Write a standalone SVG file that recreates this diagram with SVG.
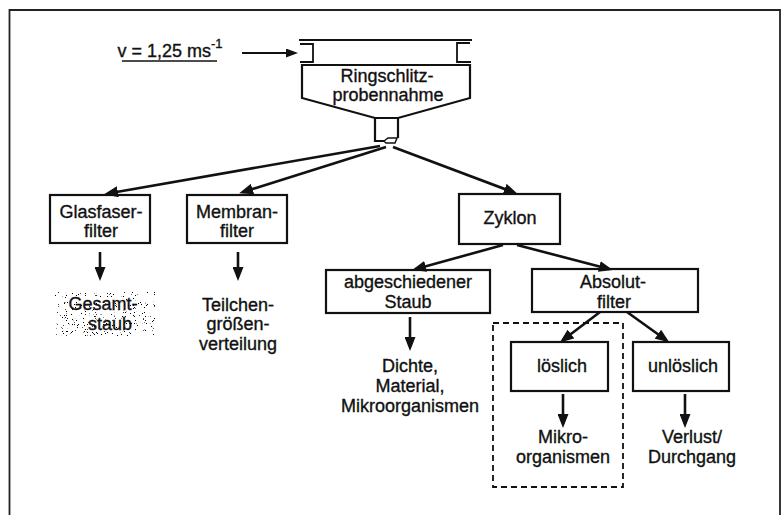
<svg xmlns="http://www.w3.org/2000/svg" width="784" height="515" viewBox="0 0 784 515">
<style>
  .t { font-family: "Liberation Sans", Arial, Helvetica, sans-serif; font-size: 18px; fill: #111; text-anchor: middle; stroke: #111; stroke-width: 0.35px; }
  .box { fill: none; stroke: #111; stroke-width: 2.2; }
  .ln { fill: none; stroke: #111; stroke-width: 2.6; }
  .thin { fill: none; stroke: #111; stroke-width: 1.8; }
</style>
<defs>
  <marker id="ah" markerUnits="userSpaceOnUse" markerWidth="14" markerHeight="11" viewBox="0 0 14 11" refX="10" refY="5.5" orient="auto">
    <path d="M0,0 L14,5.5 L0,11 Z" fill="#111"/>
  </marker>
  <marker id="ahs" markerUnits="userSpaceOnUse" markerWidth="12" markerHeight="9" viewBox="0 0 12 9" refX="9" refY="4.5" orient="auto">
    <path d="M0,0 L12,4.5 L0,9 Z" fill="#111"/>
  </marker>
  <filter id="speckle" x="0" y="0" width="1" height="1">
    <feTurbulence type="fractalNoise" baseFrequency="1.1" numOctaves="2" seed="7" result="n"/>
    <feColorMatrix in="n" type="matrix" values="0 0 0 0 0  0 0 0 0 0  0 0 0 0 0  0 0 0 -22 6.6"/>
  </filter>
</defs>
<rect x="0" y="0" width="784" height="515" fill="#fff"/>
<path d="M9.5,515 V10 H780 V515" fill="none" stroke="#222" stroke-width="1.8"/>

<g id="inlet">
  <text class="t" x="170" y="57">v = 1,25 ms<tspan dy="-9" font-size="13">-1</tspan></text>
  <line x1="122" y1="61" x2="217" y2="61" stroke="#111" stroke-width="1.5"/>
  <line x1="242" y1="53" x2="295" y2="53" class="thin" marker-end="url(#ahs)"/>
</g>

<g id="ringschlitz">
  <line x1="299" y1="40" x2="472" y2="40" stroke="#111" stroke-width="2"/>
  <path d="M300,44 H313 V62 H300" class="thin"/>
  <path d="M470,43 H457 V62 H471" class="thin"/>
  <path d="M302,65 H470 V98 L398,118 H375 L302,98 Z" class="box"/>
  <path d="M375,118 V141 H384 M398,118 V138" class="box"/>
  <path d="M384,141 L388,138 H397 L395,143 H386 Z" fill="none" stroke="#111" stroke-width="1.5"/>
  <text class="t" x="387" y="82">Ringschlitz-</text>
  <text class="t" x="388" y="101">probennahme</text>
</g>

<g id="glasfaser">
  <rect x="50" y="195" width="100" height="48" class="box"/>
  <text class="t" x="101" y="218">Glasfaser-</text>
  <text class="t" x="101" y="237">filter</text>
</g>
<g id="gesamtstaub">
  <text class="t" x="103" y="310">Gesamt-</text>
  <text class="t" x="110" y="330">staub</text>
  <rect x="55" y="292" width="100" height="44" filter="url(#speckle)"/>
</g>

<g id="membran">
  <rect x="187" y="195" width="100" height="48" class="box"/>
  <text class="t" x="237" y="218">Membran-</text>
  <text class="t" x="237" y="237">filter</text>
</g>
<g id="teilchen">
  <text class="t" x="238" y="311">Teilchen-</text>
  <text class="t" x="238" y="330">größen-</text>
  <text class="t" x="238" y="350">verteilung</text>
</g>

<g id="zyklon">
  <rect x="459" y="194" width="101" height="50" class="box"/>
  <text class="t" x="510" y="224">Zyklon</text>
</g>

<g id="staub">
  <rect x="326" y="270" width="164" height="43" class="box"/>
  <text class="t" x="408" y="288">abgeschiedener</text>
  <text class="t" x="408" y="308">Staub</text>
</g>
<g id="dichte">
  <text class="t" x="410" y="372">Dichte,</text>
  <text class="t" x="410" y="392">Material,</text>
  <text class="t" x="410" y="412">Mikroorganismen</text>
</g>

<g id="absolut">
  <rect x="532" y="269" width="166" height="43" class="box"/>
  <text class="t" x="613" y="288">Absolut-</text>
  <text class="t" x="614" y="308">filter</text>
</g>

<g id="dashed-group">
  <rect x="493" y="323" width="130" height="164" fill="none" stroke="#111" stroke-width="1.8" stroke-dasharray="6,4"/>
</g>

<g id="loeslich">
  <rect x="511" y="342" width="97" height="49" class="box"/>
  <text class="t" x="562" y="372">löslich</text>
</g>
<g id="mikro">
  <text class="t" x="563" y="443">Mikro-</text>
  <text class="t" x="563" y="463">organismen</text>
</g>

<g id="unloeslich">
  <rect x="633" y="342" width="96" height="49" class="box"/>
  <text class="t" x="683" y="372">unlöslich</text>
</g>
<g id="verlust">
  <text class="t" x="692" y="443">Verlust/</text>
  <text class="t" x="692" y="463">Durchgang</text>
</g>

<g id="connectors">
  <line x1="380" y1="146" x2="108" y2="193.5" class="ln" marker-end="url(#ah)"/>
  <line x1="386" y1="147" x2="243" y2="192" class="ln" marker-end="url(#ah)"/>
  <line x1="393" y1="147" x2="514" y2="192.5" class="ln" marker-end="url(#ah)"/>
  <line x1="100" y1="252" x2="100" y2="277" class="ln" marker-end="url(#ah)"/>
  <line x1="238" y1="252" x2="238" y2="277" class="ln" marker-end="url(#ah)"/>
  <line x1="503" y1="245" x2="416" y2="269" class="ln" marker-end="url(#ah)"/>
  <line x1="517" y1="245" x2="609" y2="269" class="ln" marker-end="url(#ah)"/>
  <line x1="410" y1="317" x2="410" y2="347" class="ln" marker-end="url(#ah)"/>
  <line x1="600" y1="312" x2="563" y2="340" class="ln" marker-end="url(#ah)"/>
  <line x1="627" y1="312" x2="666" y2="340" class="ln" marker-end="url(#ah)"/>
  <line x1="563" y1="394" x2="563" y2="424" class="ln" marker-end="url(#ah)"/>
  <line x1="685" y1="394" x2="685" y2="424" class="ln" marker-end="url(#ah)"/>
</g>
</svg>
